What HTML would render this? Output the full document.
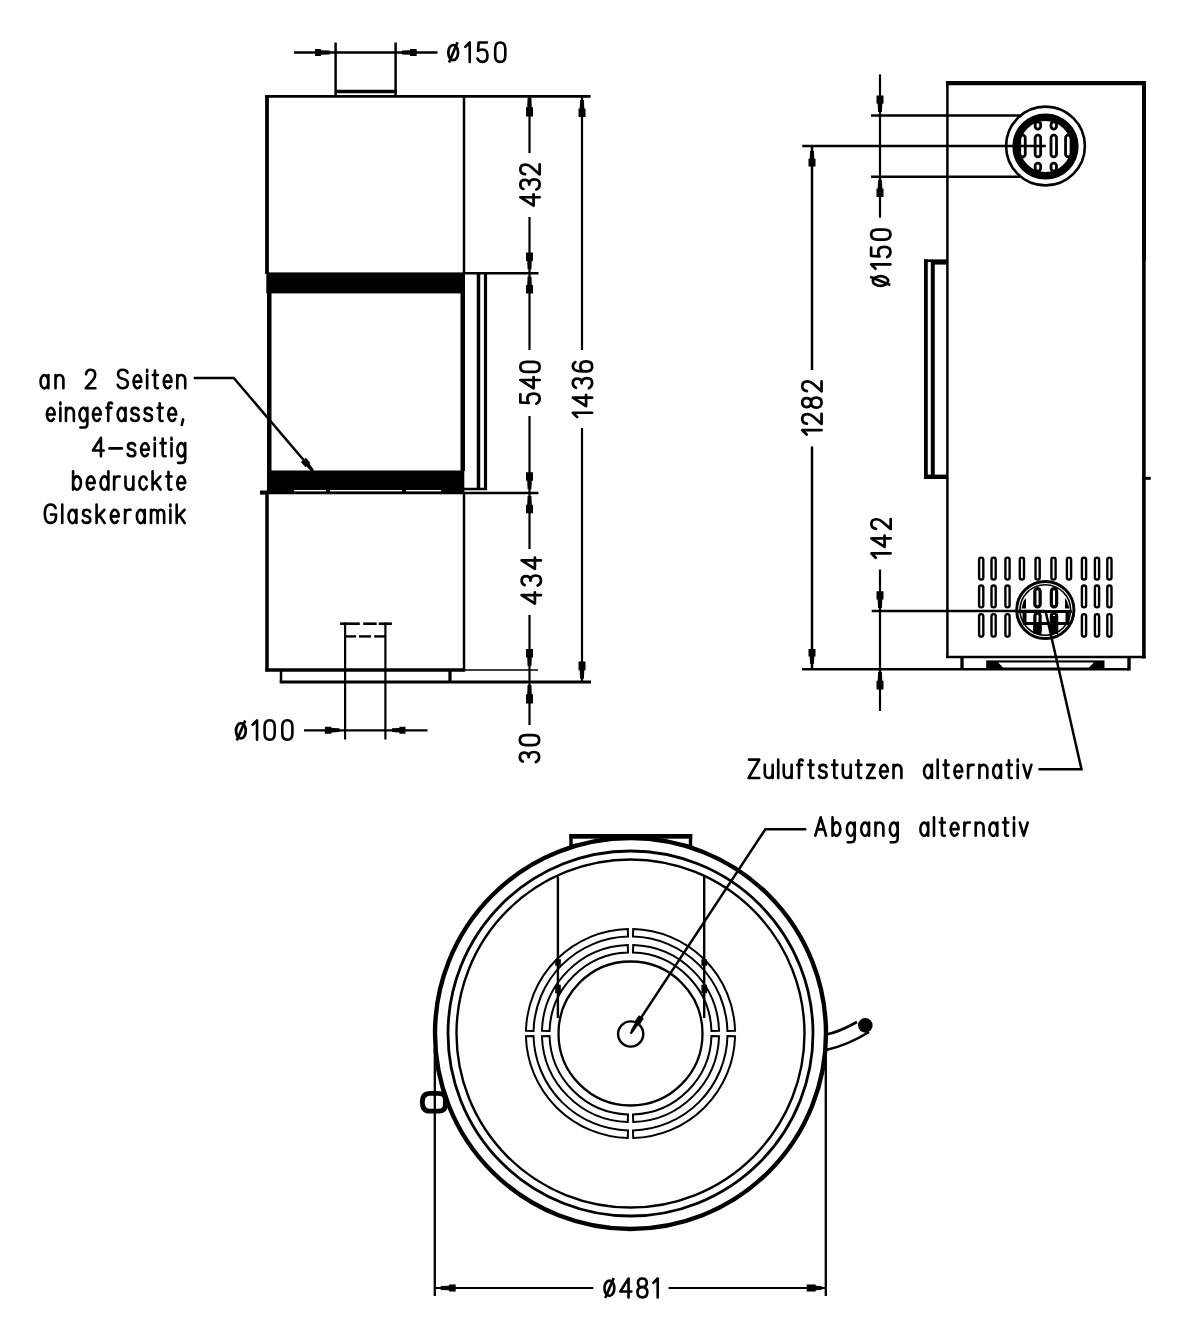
<!DOCTYPE html>
<html><head><meta charset="utf-8"><style>
html,body{margin:0;padding:0;background:#fff;}
svg{display:block;will-change:transform;}
text{font-family:"Liberation Sans",sans-serif;fill:#000;stroke:#000;stroke-width:0.6px;}
</style></head><body>
<svg width="1200" height="1331" viewBox="0 0 1200 1331">
<rect width="1200" height="1331" fill="#fff"/>
<g stroke="#000" stroke-linecap="butt">
<line x1="335.6" y1="42.5" x2="335.6" y2="96" stroke-width="2.5"/>
<line x1="395.6" y1="42.5" x2="395.6" y2="96" stroke-width="2.5"/>
<line x1="335" y1="91.5" x2="397" y2="91.5" stroke-width="3.6"/>
<line x1="294" y1="52.5" x2="437.5" y2="52.5" stroke-width="2.5"/>
<polygon points="329.70,54.40 320.88,54.80 320.88,56.00 315.00,56.00 315.00,49.00 320.88,49.00 320.88,50.20 329.70,50.60" fill="#000" stroke="none"/>
<polygon points="402.00,50.60 410.08,50.20 410.08,49.00 416.70,49.00 416.70,56.00 410.08,56.00 410.08,54.80 402.00,54.40" fill="#000" stroke="none"/>
<g transform="translate(464 61.900000000000006)" fill="none" stroke-linecap="round" stroke-linejoin="round" stroke-width="2.6"><path transform="translate(1.30 0) scale(1.1669 1.3857)" d="M0,-10.8 L3.8,-14 V0" vector-effect="non-scaling-stroke"/><path transform="translate(13.40 0) scale(1.1240 1.3857)" d="M8.4,-14 H1.1 L0.6,-7.9 Q2,-8.9 4.5,-8.9 Q9,-8.9 9,-4.4 Q9,0 4.5,0 Q1.2,0 0,-2.4" vector-effect="non-scaling-stroke"/><path transform="translate(31.18 0) scale(1.1240 1.3857)" d="M4.5,-14 Q9,-14 9,-9.5 V-4.5 Q9,0 4.5,0 Q0,0 0,-4.5 V-9.5 Q0,-14 4.5,-14 Z" vector-effect="non-scaling-stroke"/></g>
<g transform="translate(453.2 52.6) rotate(0)"><ellipse cx="0" cy="0" rx="4.9" ry="7.6" stroke-width="2.7" fill="none"/><line x1="4.3" y1="-10.3" x2="-4.1" y2="9.8" stroke-width="2.7"/></g>
<line x1="265" y1="96.4" x2="590.6" y2="96.4" stroke-width="2.8"/>
<line x1="267" y1="95" x2="267" y2="274" stroke-width="3.8"/>
<line x1="464" y1="96" x2="464" y2="274" stroke-width="2.5"/>
<rect x="266.3" y="272.4" width="198.7" height="21.0" fill="#000" stroke="none"/>
<rect x="267" y="293" width="4.5" height="178" fill="#000" stroke="none"/>
<rect x="460.5" y="293" width="4.5" height="178" fill="#000" stroke="none"/>
<rect x="267" y="470.5" width="197.3" height="23.5" fill="#000" stroke="none"/>
<rect x="260" y="490.5" width="7" height="4.0" fill="#000" stroke="none"/>
<rect x="294" y="490" width="32" height="1.5" fill="#fff" stroke="none"/>
<rect x="330" y="490" width="72" height="1.5" fill="#fff" stroke="none"/>
<rect x="406" y="490" width="35" height="1.5" fill="#fff" stroke="none"/>
<line x1="478.5" y1="273" x2="478.5" y2="490" stroke-width="3.5"/>
<line x1="485.5" y1="273" x2="485.5" y2="490" stroke-width="3.2"/>
<line x1="464" y1="489" x2="487" y2="489" stroke-width="2.5"/>
<line x1="464" y1="273.3" x2="538.5" y2="273.3" stroke-width="2.5"/>
<line x1="260" y1="492.9" x2="538.4" y2="492.9" stroke-width="2.5"/>
<line x1="267" y1="492" x2="267" y2="671.5" stroke-width="3.5"/>
<line x1="464" y1="492" x2="464" y2="671.5" stroke-width="2.5"/>
<line x1="265.5" y1="670" x2="464.5" y2="670" stroke-width="3.5"/>
<line x1="464" y1="670" x2="538" y2="670" stroke-width="1.6"/>
<line x1="281" y1="670" x2="281" y2="682" stroke-width="2.5"/>
<line x1="450" y1="670" x2="450" y2="682" stroke-width="3.2"/>
<line x1="279.7" y1="682" x2="591" y2="682" stroke-width="3"/>
<line x1="345.1" y1="622.5" x2="345.1" y2="739.5" stroke-width="2.2"/>
<line x1="385.4" y1="622.5" x2="385.4" y2="739.5" stroke-width="2.2"/>
<line x1="340.1" y1="623.7" x2="359.8" y2="623.7" stroke-width="2.6"/>
<line x1="363.2" y1="623.7" x2="376.7" y2="623.7" stroke-width="2.6"/>
<line x1="378.7" y1="623.7" x2="391.9" y2="623.7" stroke-width="2.6"/>
<line x1="345" y1="636.4" x2="356.1" y2="636.4" stroke-width="2.4"/>
<line x1="359" y1="636.4" x2="371" y2="636.4" stroke-width="2.4"/>
<line x1="374.2" y1="636.4" x2="385.4" y2="636.4" stroke-width="2.4"/>
<line x1="304" y1="730.3" x2="427.5" y2="730.3" stroke-width="2.2"/>
<polygon points="339.50,732.10 331.47,732.50 331.47,733.70 324.90,733.70 324.90,726.70 331.47,726.70 331.47,727.90 339.50,728.30" fill="#000" stroke="none"/>
<polygon points="392.00,728.30 399.43,727.90 399.43,726.70 405.50,726.70 405.50,733.70 399.43,733.70 399.43,732.50 392.00,732.10" fill="#000" stroke="none"/>
<g transform="translate(251.3 739.7)" fill="none" stroke-linecap="round" stroke-linejoin="round" stroke-width="2.6"><path transform="translate(1.30 0) scale(1.1669 1.3857)" d="M0,-10.8 L3.8,-14 V0" vector-effect="non-scaling-stroke"/><path transform="translate(13.30 0) scale(1.1240 1.3857)" d="M4.5,-14 Q9,-14 9,-9.5 V-4.5 Q9,0 4.5,0 Q0,0 0,-4.5 V-9.5 Q0,-14 4.5,-14 Z" vector-effect="non-scaling-stroke"/><path transform="translate(30.98 0) scale(1.1240 1.3857)" d="M4.5,-14 Q9,-14 9,-9.5 V-4.5 Q9,0 4.5,0 Q0,0 0,-4.5 V-9.5 Q0,-14 4.5,-14 Z" vector-effect="non-scaling-stroke"/></g>
<g transform="translate(240.9 730.8) rotate(0)"><ellipse cx="0" cy="0" rx="4.9" ry="7.6" stroke-width="2.7" fill="none"/><line x1="4.3" y1="-10.3" x2="-4.1" y2="9.8" stroke-width="2.7"/></g>
<line x1="529.5" y1="97" x2="529.5" y2="153" stroke-width="2.2"/>
<line x1="529.5" y1="217" x2="529.5" y2="350" stroke-width="2.2"/>
<line x1="529.5" y1="416" x2="529.5" y2="549" stroke-width="2.2"/>
<line x1="529.5" y1="615" x2="529.5" y2="725" stroke-width="2.2"/>
<polygon points="531.40,97.90 531.80,107.25 533.00,107.25 533.00,116.60 526.00,116.60 526.00,107.25 527.20,107.25 527.60,97.90" fill="#000" stroke="none"/>
<polygon points="527.60,269.30 527.20,260.95 526.00,260.95 526.00,252.60 533.00,252.60 533.00,260.95 531.80,260.95 531.40,269.30" fill="#000" stroke="none"/>
<polygon points="531.40,276.50 531.80,285.05 533.00,285.05 533.00,293.60 526.00,293.60 526.00,285.05 527.20,285.05 527.60,276.50" fill="#000" stroke="none"/>
<polygon points="527.60,489.30 527.20,480.75 526.00,480.75 526.00,472.20 533.00,472.20 533.00,480.75 531.80,480.75 531.40,489.30" fill="#000" stroke="none"/>
<polygon points="531.40,496.10 531.80,504.65 533.00,504.65 533.00,513.20 526.00,513.20 526.00,504.65 527.20,504.65 527.60,496.10" fill="#000" stroke="none"/>
<polygon points="527.60,666.00 527.20,657.45 526.00,657.45 526.00,648.90 533.00,648.90 533.00,657.45 531.80,657.45 531.40,666.00" fill="#000" stroke="none"/>
<polygon points="531.40,685.00 531.80,694.25 533.00,694.25 533.00,703.50 526.00,703.50 526.00,694.25 527.20,694.25 527.60,685.00" fill="#000" stroke="none"/>
<line x1="582" y1="97" x2="582" y2="350" stroke-width="2.2"/>
<line x1="582" y1="428" x2="582" y2="682" stroke-width="2.2"/>
<polygon points="583.90,99.90 584.30,108.45 585.50,108.45 585.50,117.00 578.50,117.00 578.50,108.45 579.70,108.45 580.10,99.90" fill="#000" stroke="none"/>
<polygon points="580.10,678.70 579.70,670.15 578.50,670.15 578.50,661.60 585.50,661.60 585.50,670.15 584.30,670.15 583.90,678.70" fill="#000" stroke="none"/>
<g transform="translate(539.65 207) rotate(-90)" fill="none" stroke-linecap="round" stroke-linejoin="round" stroke-width="2.7"><path transform="translate(1.35 0) scale(1.2026 1.3786)" d="M7,0 V-14 L0,-4.4 H9.4" vector-effect="non-scaling-stroke"/><path transform="translate(17.59 0) scale(1.1182 1.3786)" d="M0.4,-11.8 Q1.4,-14 4.5,-14 Q8.5,-14 8.5,-10.6 Q8.5,-7.6 4.3,-7.6 M4.3,-7.6 Q9,-7.6 9,-3.9 Q9,0 4.5,0 Q1.2,0 0,-2.4" vector-effect="non-scaling-stroke"/><path transform="translate(32.59 0) scale(1.0939 1.3786)" d="M0.2,-10.6 Q0.8,-14 4.6,-14 Q9,-14 9,-10.3 Q9,-8 6.6,-5.9 L0,0 H9.2" vector-effect="non-scaling-stroke"/></g>
<g transform="translate(539.65 405) rotate(-90)" fill="none" stroke-linecap="round" stroke-linejoin="round" stroke-width="2.7"><path transform="translate(1.35 0) scale(1.1182 1.3786)" d="M8.4,-14 H1.1 L0.6,-7.9 Q2,-8.9 4.5,-8.9 Q9,-8.9 9,-4.4 Q9,0 4.5,0 Q1.2,0 0,-2.4" vector-effect="non-scaling-stroke"/><path transform="translate(16.60 0) scale(1.2026 1.3786)" d="M7,0 V-14 L0,-4.4 H9.4" vector-effect="non-scaling-stroke"/><path transform="translate(33.09 0) scale(1.1182 1.3786)" d="M4.5,-14 Q9,-14 9,-9.5 V-4.5 Q9,0 4.5,0 Q0,0 0,-4.5 V-9.5 Q0,-14 4.5,-14 Z" vector-effect="non-scaling-stroke"/></g>
<g transform="translate(592.15 418.5) rotate(-90)" fill="none" stroke-linecap="round" stroke-linejoin="round" stroke-width="2.7"><path transform="translate(1.35 0) scale(1.1609 1.3786)" d="M0,-10.8 L3.8,-14 V0" vector-effect="non-scaling-stroke"/><path transform="translate(12.41 0) scale(1.2026 1.3786)" d="M7,0 V-14 L0,-4.4 H9.4" vector-effect="non-scaling-stroke"/><path transform="translate(30.37 0) scale(1.1182 1.3786)" d="M0.4,-11.8 Q1.4,-14 4.5,-14 Q8.5,-14 8.5,-10.6 Q8.5,-7.6 4.3,-7.6 M4.3,-7.6 Q9,-7.6 9,-3.9 Q9,0 4.5,0 Q1.2,0 0,-2.4" vector-effect="non-scaling-stroke"/><path transform="translate(47.09 0) scale(1.1182 1.3786)" d="M8.2,-12.2 Q7.2,-14 4.6,-14 Q0,-14 0,-7.5 V-4.4 Q0,0 4.5,0 Q9,0 9,-4.4 Q9,-8.6 4.5,-8.6 Q0,-8.6 0,-4.8" vector-effect="non-scaling-stroke"/></g>
<g transform="translate(540.9499999999999 604.9) rotate(-90)" fill="none" stroke-linecap="round" stroke-linejoin="round" stroke-width="2.7"><path transform="translate(1.35 0) scale(1.2026 1.3786)" d="M7,0 V-14 L0,-4.4 H9.4" vector-effect="non-scaling-stroke"/><path transform="translate(19.32 0) scale(1.1182 1.3786)" d="M0.4,-11.8 Q1.4,-14 4.5,-14 Q8.5,-14 8.5,-10.6 Q8.5,-7.6 4.3,-7.6 M4.3,-7.6 Q9,-7.6 9,-3.9 Q9,0 4.5,0 Q1.2,0 0,-2.4" vector-effect="non-scaling-stroke"/><path transform="translate(36.05 0) scale(1.2026 1.3786)" d="M7,0 V-14 L0,-4.4 H9.4" vector-effect="non-scaling-stroke"/></g>
<g transform="translate(539.15 763.4) rotate(-90)" fill="none" stroke-linecap="round" stroke-linejoin="round" stroke-width="2.7"><path transform="translate(1.35 0) scale(1.1182 1.3786)" d="M0.4,-11.8 Q1.4,-14 4.5,-14 Q8.5,-14 8.5,-10.6 Q8.5,-7.6 4.3,-7.6 M4.3,-7.6 Q9,-7.6 9,-3.9 Q9,0 4.5,0 Q1.2,0 0,-2.4" vector-effect="non-scaling-stroke"/><path transform="translate(18.29 0) scale(1.1182 1.3786)" d="M4.5,-14 Q9,-14 9,-9.5 V-4.5 Q9,0 4.5,0 Q0,0 0,-4.5 V-9.5 Q0,-14 4.5,-14 Z" vector-effect="non-scaling-stroke"/></g>
<g transform="translate(39.2 388.2)" fill="none" stroke-linecap="round" stroke-linejoin="round" stroke-width="2.6"><path transform="translate(1.30 0) scale(0.8762 1.3143)" d="M9,-5 A4.5,5 0 1 0 9,-4.9 M9,-10 V0" vector-effect="non-scaling-stroke"/><path transform="translate(16.31 0) scale(0.8762 1.3143)" d="M0,-10 V0 M0,-6 Q0,-10 4.5,-10 Q9,-10 9,-6 V0" vector-effect="non-scaling-stroke"/></g>
<g transform="translate(84.5 388.2)" fill="none" stroke-linecap="round" stroke-linejoin="round" stroke-width="2.6"><path transform="translate(1.30 0) scale(1.0429 1.3143)" d="M0.2,-10.6 Q0.8,-14 4.6,-14 Q9,-14 9,-10.3 Q9,-8 6.6,-5.9 L0,0 H9.2" vector-effect="non-scaling-stroke"/></g>
<g transform="translate(116.4 388.2)" fill="none" stroke-linecap="round" stroke-linejoin="round" stroke-width="2.6"><path transform="translate(1.30 0) scale(0.9638 1.3143)" d="M10.2,-11.8 Q9.4,-14 5.3,-14 Q0.4,-14 0.4,-10.6 Q0.4,-7.7 5.3,-7.2 Q10.5,-6.7 10.5,-3.5 Q10.5,0 5.3,0 Q0.8,0 0,-2.6" vector-effect="non-scaling-stroke"/><path transform="translate(17.14 0) scale(0.8762 1.3143)" d="M0.2,-5 H9 A4.5,5 0 1 0 7.8,-1.6" vector-effect="non-scaling-stroke"/><path transform="translate(30.74 0) scale(1.3143 1.3143)" d="M0,-10 V0 M0,-14 V-12.6" vector-effect="non-scaling-stroke"/><path transform="translate(36.46 0) scale(0.9153 1.3143)" d="M2.3,-13.5 V-1.6 Q2.3,0 4.2,0 H5.4 M0,-10 H5.6" vector-effect="non-scaling-stroke"/><path transform="translate(47.31 0) scale(0.8762 1.3143)" d="M0.2,-5 H9 A4.5,5 0 1 0 7.8,-1.6" vector-effect="non-scaling-stroke"/><path transform="translate(60.91 0) scale(0.8762 1.3143)" d="M0,-10 V0 M0,-6 Q0,-10 4.5,-10 Q9,-10 9,-6 V0" vector-effect="non-scaling-stroke"/></g>
<g transform="translate(45.6 421.0)" fill="none" stroke-linecap="round" stroke-linejoin="round" stroke-width="2.6"><path transform="translate(1.30 0) scale(0.8762 1.3143)" d="M0.2,-5 H9 A4.5,5 0 1 0 7.8,-1.6" vector-effect="non-scaling-stroke"/><path transform="translate(14.78 0) scale(1.3143 1.3143)" d="M0,-10 V0 M0,-14 V-12.6" vector-effect="non-scaling-stroke"/><path transform="translate(20.38 0) scale(0.8762 1.3143)" d="M0,-10 V0 M0,-6 Q0,-10 4.5,-10 Q9,-10 9,-6 V0" vector-effect="non-scaling-stroke"/><path transform="translate(33.86 0) scale(0.8762 1.3143)" d="M9,-5 A4.5,5 0 1 0 9,-4.9 M9,-10 V2 Q9,5 5.5,5 H1" vector-effect="non-scaling-stroke"/><path transform="translate(47.34 0) scale(0.8762 1.3143)" d="M0.2,-5 H9 A4.5,5 0 1 0 7.8,-1.6" vector-effect="non-scaling-stroke"/><path transform="translate(60.82 0) scale(0.9115 1.3143)" d="M6.2,-13.3 Q5.5,-14 4.2,-14 Q2,-14 2,-11.6 V0 M0,-10 H5.4" vector-effect="non-scaling-stroke"/><path transform="translate(72.07 0) scale(0.8762 1.3143)" d="M9,-5 A4.5,5 0 1 0 9,-4.9 M9,-10 V0" vector-effect="non-scaling-stroke"/><path transform="translate(85.55 0) scale(0.8864 1.3143)" d="M8.4,-8.3 Q7.6,-10 4.3,-10 Q0.4,-10 0.4,-7.6 Q0.4,-5.6 4.3,-5.1 Q8.6,-4.6 8.6,-2.4 Q8.6,0 4.3,0 Q0.8,0 0,-1.8" vector-effect="non-scaling-stroke"/><path transform="translate(98.77 0) scale(0.8864 1.3143)" d="M8.4,-8.3 Q7.6,-10 4.3,-10 Q0.4,-10 0.4,-7.6 Q0.4,-5.6 4.3,-5.1 Q8.6,-4.6 8.6,-2.4 Q8.6,0 4.3,0 Q0.8,0 0,-1.8" vector-effect="non-scaling-stroke"/><path transform="translate(111.98 0) scale(0.9153 1.3143)" d="M2.3,-13.5 V-1.6 Q2.3,0 4.2,0 H5.4 M0,-10 H5.6" vector-effect="non-scaling-stroke"/><path transform="translate(122.70 0) scale(0.8762 1.3143)" d="M0.2,-5 H9 A4.5,5 0 1 0 7.8,-1.6" vector-effect="non-scaling-stroke"/><path transform="translate(136.19 0) scale(1.0952 1.3143)" d="M1.2,-1.2 L0,3" vector-effect="non-scaling-stroke"/></g>
<g transform="translate(91.6 456.3)" fill="none" stroke-linecap="round" stroke-linejoin="round" stroke-width="2.6"><path transform="translate(1.30 0) scale(1.1465 1.3143)" d="M7,0 V-14 L0,-4.4 H9.4" vector-effect="non-scaling-stroke"/><path transform="translate(17.88 0) scale(1.3005 1.3143)" d="M0,-6 H9.5" vector-effect="non-scaling-stroke"/><path transform="translate(36.05 0) scale(0.8864 1.3143)" d="M8.4,-8.3 Q7.6,-10 4.3,-10 Q0.4,-10 0.4,-7.6 Q0.4,-5.6 4.3,-5.1 Q8.6,-4.6 8.6,-2.4 Q8.6,0 4.3,0 Q0.8,0 0,-1.8" vector-effect="non-scaling-stroke"/><path transform="translate(49.48 0) scale(0.8762 1.3143)" d="M0.2,-5 H9 A4.5,5 0 1 0 7.8,-1.6" vector-effect="non-scaling-stroke"/><path transform="translate(63.17 0) scale(1.3143 1.3143)" d="M0,-10 V0 M0,-14 V-12.6" vector-effect="non-scaling-stroke"/><path transform="translate(68.97 0) scale(0.9153 1.3143)" d="M2.3,-13.5 V-1.6 Q2.3,0 4.2,0 H5.4 M0,-10 H5.6" vector-effect="non-scaling-stroke"/><path transform="translate(79.91 0) scale(1.3143 1.3143)" d="M0,-10 V0 M0,-14 V-12.6" vector-effect="non-scaling-stroke"/><path transform="translate(85.71 0) scale(0.8762 1.3143)" d="M9,-5 A4.5,5 0 1 0 9,-4.9 M9,-10 V2 Q9,5 5.5,5 H1" vector-effect="non-scaling-stroke"/></g>
<g transform="translate(71.8 489.59999999999997)" fill="none" stroke-linecap="round" stroke-linejoin="round" stroke-width="2.6"><path transform="translate(1.30 0) scale(0.8762 1.3143)" d="M0,-14 V0 M0,-5 A4.5,5 0 1 0 0,-5.1" vector-effect="non-scaling-stroke"/><path transform="translate(14.98 0) scale(0.8762 1.3143)" d="M0.2,-5 H9 A4.5,5 0 1 0 7.8,-1.6" vector-effect="non-scaling-stroke"/><path transform="translate(28.67 0) scale(0.8762 1.3143)" d="M9,-14 V0 M9,-5 A4.5,5 0 1 0 9,-4.9" vector-effect="non-scaling-stroke"/><path transform="translate(42.35 0) scale(0.8492 1.3143)" d="M0,-10 V0 M0,-6 Q0.5,-10 4,-10 H6.5" vector-effect="non-scaling-stroke"/><path transform="translate(53.67 0) scale(0.8762 1.3143)" d="M0,-10 V-4 Q0,0 4.5,0 Q9,0 9,-4 M9,-10 V0" vector-effect="non-scaling-stroke"/><path transform="translate(67.35 0) scale(0.8864 1.3143)" d="M8.6,-7.6 A4.5,5 0 1 0 8.6,-2.4" vector-effect="non-scaling-stroke"/><path transform="translate(80.77 0) scale(0.9432 1.3143)" d="M0,-14 V0 M8.3,-10 L0,-3.6 M2.9,-5.8 L8.5,0" vector-effect="non-scaling-stroke"/><path transform="translate(94.59 0) scale(0.9153 1.3143)" d="M2.3,-13.5 V-1.6 Q2.3,0 4.2,0 H5.4 M0,-10 H5.6" vector-effect="non-scaling-stroke"/><path transform="translate(105.51 0) scale(0.8762 1.3143)" d="M0.2,-5 H9 A4.5,5 0 1 0 7.8,-1.6" vector-effect="non-scaling-stroke"/></g>
<g transform="translate(43.5 522.9000000000001)" fill="none" stroke-linecap="round" stroke-linejoin="round" stroke-width="2.6"><path transform="translate(1.30 0) scale(1.0156 1.3143)" d="M10.6,-11.3 Q9.5,-14 5.6,-14 Q0,-14 0,-7 Q0,0 5.6,0 Q11,0 11,-4.5 V-6.4 H6" vector-effect="non-scaling-stroke"/><path transform="translate(18.75 0) scale(1.3143 1.3143)" d="M0,-14 V0" vector-effect="non-scaling-stroke"/><path transform="translate(25.02 0) scale(0.8762 1.3143)" d="M9,-5 A4.5,5 0 1 0 9,-4.9 M9,-10 V0" vector-effect="non-scaling-stroke"/><path transform="translate(39.18 0) scale(0.8864 1.3143)" d="M8.4,-8.3 Q7.6,-10 4.3,-10 Q0.4,-10 0.4,-7.6 Q0.4,-5.6 4.3,-5.1 Q8.6,-4.6 8.6,-2.4 Q8.6,0 4.3,0 Q0.8,0 0,-1.8" vector-effect="non-scaling-stroke"/><path transform="translate(53.08 0) scale(0.9432 1.3143)" d="M0,-14 V0 M8.3,-10 L0,-3.6 M2.9,-5.8 L8.5,0" vector-effect="non-scaling-stroke"/><path transform="translate(67.37 0) scale(0.8762 1.3143)" d="M0.2,-5 H9 A4.5,5 0 1 0 7.8,-1.6" vector-effect="non-scaling-stroke"/><path transform="translate(81.53 0) scale(0.8492 1.3143)" d="M0,-10 V0 M0,-6 Q0.5,-10 4,-10 H6.5" vector-effect="non-scaling-stroke"/><path transform="translate(93.33 0) scale(0.8762 1.3143)" d="M9,-5 A4.5,5 0 1 0 9,-4.9 M9,-10 V0" vector-effect="non-scaling-stroke"/><path transform="translate(107.49 0) scale(0.9388 1.3143)" d="M0,-10 V0 M0,-6.5 Q0,-10 3.5,-10 Q7,-10 7,-6.5 V0 M7,-6.5 Q7,-10 10.5,-10 Q14,-10 14,-6.5 V0" vector-effect="non-scaling-stroke"/><path transform="translate(126.91 0) scale(1.3143 1.3143)" d="M0,-10 V0 M0,-14 V-12.6" vector-effect="non-scaling-stroke"/><path transform="translate(133.18 0) scale(0.9432 1.3143)" d="M0,-14 V0 M8.3,-10 L0,-3.6 M2.9,-5.8 L8.5,0" vector-effect="non-scaling-stroke"/></g>
<polyline points="193.75,378 233.75,378 313,471" stroke-width="2.5" fill="none"/>
<polygon points="311.36,471.47 306.43,466.45 305.47,467.26 300.92,461.91 305.88,457.69 310.43,463.04 309.47,463.85 313.64,469.53" fill="#000" stroke="none"/>
<line x1="947.4" y1="82" x2="947.4" y2="658" stroke-width="2.5"/>
<line x1="946" y1="83.2" x2="1146" y2="83.2" stroke-width="4.2"/>
<line x1="1144" y1="81.3" x2="1144" y2="261" stroke-width="4"/>
<line x1="1143.9" y1="259" x2="1143.9" y2="658.4" stroke-width="3.6"/>
<line x1="946" y1="656.9" x2="1145.5" y2="656.9" stroke-width="2.5"/>
<line x1="925.9" y1="259.4" x2="925.9" y2="479" stroke-width="3.8"/>
<line x1="924" y1="260.7" x2="947" y2="260.7" stroke-width="2.6"/>
<line x1="932.8" y1="262" x2="932.8" y2="477" stroke-width="4"/>
<line x1="932.8" y1="263.3" x2="947" y2="263.3" stroke-width="2.6"/>
<line x1="924" y1="476.8" x2="947" y2="476.8" stroke-width="4.4"/>
<line x1="1142" y1="478.3" x2="1150.7" y2="478.3" stroke-width="3"/>
<circle cx="1045.5" cy="146" r="39.4" stroke-width="2.6" fill="none"/>
<circle cx="1045.5" cy="146.5" r="29.3" stroke-width="7.6" fill="none"/>
<rect x="1035.15" y="121.80000000000001" width="5.500000000000001" height="7.2999999999999945" rx="2.7500000000000004" stroke-width="2.8" fill="none"/>
<rect x="1035.15" y="163.1" width="5.500000000000001" height="8.00000000000001" rx="2.7500000000000004" stroke-width="2.8" fill="none"/>
<rect x="1051.0" y="121.80000000000001" width="5.500000000000001" height="7.2999999999999945" rx="2.7500000000000004" stroke-width="2.8" fill="none"/>
<rect x="1051.0" y="163.1" width="5.500000000000001" height="8.00000000000001" rx="2.7500000000000004" stroke-width="2.8" fill="none"/>
<rect x="1019.75" y="135.15" width="5.500000000000001" height="21.75000000000001" rx="2.7500000000000004" stroke-width="2.8" fill="none"/>
<rect x="1035.15" y="135.15" width="5.500000000000001" height="21.75000000000001" rx="2.7500000000000004" stroke-width="2.8" fill="none"/>
<rect x="1051.0" y="135.15" width="5.500000000000001" height="21.75000000000001" rx="2.7500000000000004" stroke-width="2.8" fill="none"/>
<rect x="1065.55" y="135.15" width="5.500000000000001" height="21.75000000000001" rx="2.7500000000000004" stroke-width="2.8" fill="none"/>
<line x1="871" y1="115.5" x2="1021" y2="115.5" stroke-width="2.5"/>
<line x1="802.3" y1="146" x2="1045.8" y2="146" stroke-width="2.5"/>
<line x1="871" y1="176.8" x2="1021" y2="176.8" stroke-width="2.5"/>
<line x1="880" y1="74.4" x2="880" y2="217.7" stroke-width="2.2"/>
<polygon points="878.10,112.00 877.70,103.70 876.50,103.70 876.50,95.40 883.50,95.40 883.50,103.70 882.30,103.70 881.90,112.00" fill="#000" stroke="none"/>
<polygon points="881.90,179.70 882.30,188.40 883.50,188.40 883.50,197.10 876.50,197.10 876.50,188.40 877.70,188.40 878.10,179.70" fill="#000" stroke="none"/>
<g transform="translate(890.4499999999999 270.1) rotate(-90)" fill="none" stroke-linecap="round" stroke-linejoin="round" stroke-width="2.7"><path transform="translate(1.35 0) scale(1.1609 1.3786)" d="M0,-10.8 L3.8,-14 V0" vector-effect="non-scaling-stroke"/><path transform="translate(13.09 0) scale(1.1182 1.3786)" d="M8.4,-14 H1.1 L0.6,-7.9 Q2,-8.9 4.5,-8.9 Q9,-8.9 9,-4.4 Q9,0 4.5,0 Q1.2,0 0,-2.4" vector-effect="non-scaling-stroke"/><path transform="translate(30.49 0) scale(1.1182 1.3786)" d="M4.5,-14 Q9,-14 9,-9.5 V-4.5 Q9,0 4.5,0 Q0,0 0,-4.5 V-9.5 Q0,-14 4.5,-14 Z" vector-effect="non-scaling-stroke"/></g>
<g transform="translate(880.5 281) rotate(-90)"><ellipse cx="0" cy="0" rx="4.9" ry="7.6" stroke-width="2.7" fill="none"/><line x1="4.3" y1="-10.3" x2="-4.1" y2="9.8" stroke-width="2.7"/></g>
<line x1="812" y1="146" x2="812" y2="370" stroke-width="2.5"/>
<line x1="812" y1="446.5" x2="812" y2="668" stroke-width="2.5"/>
<polygon points="813.90,151.00 814.30,158.75 815.50,158.75 815.50,166.50 808.50,166.50 808.50,158.75 809.70,158.75 810.10,151.00" fill="#000" stroke="none"/>
<polygon points="810.10,664.00 809.70,656.55 808.50,656.55 808.50,649.10 815.50,649.10 815.50,656.55 814.30,656.55 813.90,664.00" fill="#000" stroke="none"/>
<g transform="translate(821.55 435.9) rotate(-90)" fill="none" stroke-linecap="round" stroke-linejoin="round" stroke-width="2.7"><path transform="translate(1.35 0) scale(1.1609 1.3786)" d="M0,-10.8 L3.8,-14 V0" vector-effect="non-scaling-stroke"/><path transform="translate(11.99 0) scale(1.0939 1.3786)" d="M0.2,-10.6 Q0.8,-14 4.6,-14 Q9,-14 9,-10.3 Q9,-8 6.6,-5.9 L0,0 H9.2" vector-effect="non-scaling-stroke"/><path transform="translate(28.29 0) scale(1.1182 1.3786)" d="M4.5,-7.6 Q0.5,-7.6 0.5,-10.8 Q0.5,-14 4.5,-14 Q8.5,-14 8.5,-10.8 Q8.5,-7.6 4.5,-7.6 Q0,-7.6 0,-3.8 Q0,0 4.5,0 Q9,0 9,-3.8 Q9,-7.6 4.5,-7.6 Z" vector-effect="non-scaling-stroke"/><path transform="translate(44.59 0) scale(1.0939 1.3786)" d="M0.2,-10.6 Q0.8,-14 4.6,-14 Q9,-14 9,-10.3 Q9,-8 6.6,-5.9 L0,0 H9.2" vector-effect="non-scaling-stroke"/></g>
<rect x="979.1000000000001" y="557.6" width="4.199999999999999" height="21.90000000000007" rx="2.0999999999999996" stroke-width="2.4" fill="none"/>
<rect x="979.1000000000001" y="585.5" width="4.199999999999999" height="21.90000000000007" rx="2.0999999999999996" stroke-width="2.4" fill="none"/>
<rect x="979.1000000000001" y="614.1" width="4.199999999999999" height="22.6" rx="2.0999999999999996" stroke-width="2.4" fill="none"/>
<rect x="991.5000000000001" y="557.6" width="4.199999999999999" height="21.90000000000007" rx="2.0999999999999996" stroke-width="2.4" fill="none"/>
<rect x="991.5000000000001" y="585.5" width="4.199999999999999" height="21.90000000000007" rx="2.0999999999999996" stroke-width="2.4" fill="none"/>
<rect x="991.5000000000001" y="614.1" width="4.199999999999999" height="22.6" rx="2.0999999999999996" stroke-width="2.4" fill="none"/>
<rect x="1005.4000000000001" y="557.6" width="4.199999999999999" height="21.90000000000007" rx="2.0999999999999996" stroke-width="2.4" fill="none"/>
<rect x="1005.4000000000001" y="585.5" width="4.199999999999999" height="21.90000000000007" rx="2.0999999999999996" stroke-width="2.4" fill="none"/>
<rect x="1005.4000000000001" y="614.1" width="4.199999999999999" height="22.6" rx="2.0999999999999996" stroke-width="2.4" fill="none"/>
<rect x="1019.8000000000001" y="557.6" width="4.199999999999999" height="21.90000000000007" rx="2.0999999999999996" stroke-width="2.4" fill="none"/>
<rect x="1035.5" y="557.6" width="4.199999999999999" height="21.90000000000007" rx="2.0999999999999996" stroke-width="2.4" fill="none"/>
<rect x="1051.4" y="557.6" width="4.199999999999999" height="21.90000000000007" rx="2.0999999999999996" stroke-width="2.4" fill="none"/>
<rect x="1066.9" y="557.6" width="4.199999999999999" height="21.90000000000007" rx="2.0999999999999996" stroke-width="2.4" fill="none"/>
<rect x="1081.9" y="557.6" width="4.199999999999999" height="21.90000000000007" rx="2.0999999999999996" stroke-width="2.4" fill="none"/>
<rect x="1081.9" y="585.5" width="4.199999999999999" height="21.90000000000007" rx="2.0999999999999996" stroke-width="2.4" fill="none"/>
<rect x="1081.9" y="614.1" width="4.199999999999999" height="22.6" rx="2.0999999999999996" stroke-width="2.4" fill="none"/>
<rect x="1094.9" y="557.6" width="4.199999999999999" height="21.90000000000007" rx="2.0999999999999996" stroke-width="2.4" fill="none"/>
<rect x="1094.9" y="585.5" width="4.199999999999999" height="21.90000000000007" rx="2.0999999999999996" stroke-width="2.4" fill="none"/>
<rect x="1094.9" y="614.1" width="4.199999999999999" height="22.6" rx="2.0999999999999996" stroke-width="2.4" fill="none"/>
<rect x="1107.3000000000002" y="557.6" width="4.199999999999999" height="21.90000000000007" rx="2.0999999999999996" stroke-width="2.4" fill="none"/>
<rect x="1107.3000000000002" y="585.5" width="4.199999999999999" height="21.90000000000007" rx="2.0999999999999996" stroke-width="2.4" fill="none"/>
<rect x="1107.3000000000002" y="614.1" width="4.199999999999999" height="22.6" rx="2.0999999999999996" stroke-width="2.4" fill="none"/>
<circle cx="1045.3" cy="610" r="28.6" stroke-width="3" fill="#fff"/>
<circle cx="1045.3" cy="610" r="25.3" stroke-width="1.6" fill="none"/>
<rect x="1034.85" y="588.6" width="5.3" height="18.3" rx="2.65" stroke-width="3.2" fill="none"/>
<rect x="1051.35" y="588.6" width="5.3" height="18.3" rx="2.65" stroke-width="3.2" fill="none"/>
<polygon points="1021.5,608.5 1026,608.5 1026,598 1023.5,601" fill="#000" stroke="none"/>
<polygon points="1065,608.5 1069.5,608.5 1067,601 1065,598" fill="#000" stroke="none"/>
<line x1="1017" y1="611.5" x2="1072" y2="611.5" stroke-width="3"/>
<path d="M1024.5,611.5 V623.4 H1067.5 V611.5" stroke-width="3" fill="none"/>
<rect x="1022.5" y="611.5" width="4.0" height="11.899999999999977" fill="#000" stroke="none"/>
<rect x="1065.5" y="611.5" width="4.0" height="11.899999999999977" fill="#000" stroke="none"/>
<rect x="1034.85" y="613.1" width="5.3" height="19.500000000000046" rx="2.65" stroke-width="3.2" fill="none"/>
<rect x="1051.35" y="613.1" width="5.3" height="19.500000000000046" rx="2.65" stroke-width="3.2" fill="none"/>
<rect x="1033.5" y="622" width="8.0" height="12" fill="#000" stroke="none"/>
<rect x="1050" y="616" width="8" height="18" fill="#000" stroke="none"/>
<line x1="871.7" y1="611" x2="1045" y2="611" stroke-width="2.5"/>
<line x1="880" y1="569.5" x2="880" y2="711" stroke-width="2.2"/>
<polygon points="878.10,607.90 877.70,599.60 876.50,599.60 876.50,591.30 883.50,591.30 883.50,599.60 882.30,599.60 881.90,607.90" fill="#000" stroke="none"/>
<polygon points="881.90,671.90 882.30,680.70 883.50,680.70 883.50,689.50 876.50,689.50 876.50,680.70 877.70,680.70 878.10,671.90" fill="#000" stroke="none"/>
<g transform="translate(890.65 559.1) rotate(-90)" fill="none" stroke-linecap="round" stroke-linejoin="round" stroke-width="2.7"><path transform="translate(1.35 0) scale(1.1609 1.3786)" d="M0,-10.8 L3.8,-14 V0" vector-effect="non-scaling-stroke"/><path transform="translate(12.22 0) scale(1.2026 1.3786)" d="M7,0 V-14 L0,-4.4 H9.4" vector-effect="non-scaling-stroke"/><path transform="translate(29.99 0) scale(1.0939 1.3786)" d="M0.2,-10.6 Q0.8,-14 4.6,-14 Q9,-14 9,-10.3 Q9,-8 6.6,-5.9 L0,0 H9.2" vector-effect="non-scaling-stroke"/></g>
<line x1="802" y1="669.2" x2="1129.3" y2="669.2" stroke-width="2.5"/>
<line x1="962" y1="656" x2="962" y2="670" stroke-width="3.3"/>
<line x1="1129" y1="656" x2="1129" y2="670.5" stroke-width="3.4"/>
<rect x="986.2" y="660.4" width="118.29999999999995" height="9.200000000000045" fill="#000" stroke="none"/>
<polygon points="998.2,662.6 1093.9,662.6 1089,667.5 1003,667.5" fill="#fff" stroke="none"/>
<polyline points="1045.3,610 1081.5,769.3 1038.4,769.3" stroke-width="2.5" fill="none"/>
<g transform="translate(747.3 778.0)" fill="none" stroke-linecap="round" stroke-linejoin="round" stroke-width="2.6"><path transform="translate(1.30 0) scale(0.9678 1.3143)" d="M0.4,-14 H11 L0,0 H11" vector-effect="non-scaling-stroke"/><path transform="translate(17.48 0) scale(0.8762 1.3143)" d="M0,-10 V-4 Q0,0 4.5,0 Q9,0 9,-4 M9,-10 V0" vector-effect="non-scaling-stroke"/><path transform="translate(30.91 0) scale(1.3143 1.3143)" d="M0,-14 V0" vector-effect="non-scaling-stroke"/><path transform="translate(36.44 0) scale(0.8762 1.3143)" d="M0,-10 V-4 Q0,0 4.5,0 Q9,0 9,-4 M9,-10 V0" vector-effect="non-scaling-stroke"/><path transform="translate(49.87 0) scale(0.9115 1.3143)" d="M6.2,-13.3 Q5.5,-14 4.2,-14 Q2,-14 2,-11.6 V0 M0,-10 H5.4" vector-effect="non-scaling-stroke"/><path transform="translate(61.06 0) scale(0.9153 1.3143)" d="M2.3,-13.5 V-1.6 Q2.3,0 4.2,0 H5.4 M0,-10 H5.6" vector-effect="non-scaling-stroke"/><path transform="translate(71.72 0) scale(0.8864 1.3143)" d="M8.4,-8.3 Q7.6,-10 4.3,-10 Q0.4,-10 0.4,-7.6 Q0.4,-5.6 4.3,-5.1 Q8.6,-4.6 8.6,-2.4 Q8.6,0 4.3,0 Q0.8,0 0,-1.8" vector-effect="non-scaling-stroke"/><path transform="translate(84.88 0) scale(0.9153 1.3143)" d="M2.3,-13.5 V-1.6 Q2.3,0 4.2,0 H5.4 M0,-10 H5.6" vector-effect="non-scaling-stroke"/><path transform="translate(95.54 0) scale(0.8762 1.3143)" d="M0,-10 V-4 Q0,0 4.5,0 Q9,0 9,-4 M9,-10 V0" vector-effect="non-scaling-stroke"/><path transform="translate(108.97 0) scale(0.9153 1.3143)" d="M2.3,-13.5 V-1.6 Q2.3,0 4.2,0 H5.4 M0,-10 H5.6" vector-effect="non-scaling-stroke"/><path transform="translate(119.63 0) scale(0.8864 1.3143)" d="M0.3,-10 H8.6 L0,0 H8.8" vector-effect="non-scaling-stroke"/><path transform="translate(132.79 0) scale(0.8762 1.3143)" d="M0.2,-5 H9 A4.5,5 0 1 0 7.8,-1.6" vector-effect="non-scaling-stroke"/><path transform="translate(146.21 0) scale(0.8762 1.3143)" d="M0,-10 V0 M0,-6 Q0,-10 4.5,-10 Q9,-10 9,-6 V0" vector-effect="non-scaling-stroke"/></g>
<g transform="translate(922.7 778.0)" fill="none" stroke-linecap="round" stroke-linejoin="round" stroke-width="2.6"><path transform="translate(1.30 0) scale(0.8762 1.3143)" d="M9,-5 A4.5,5 0 1 0 9,-4.9 M9,-10 V0" vector-effect="non-scaling-stroke"/><path transform="translate(14.99 0) scale(1.3143 1.3143)" d="M0,-14 V0" vector-effect="non-scaling-stroke"/><path transform="translate(20.79 0) scale(0.9153 1.3143)" d="M2.3,-13.5 V-1.6 Q2.3,0 4.2,0 H5.4 M0,-10 H5.6" vector-effect="non-scaling-stroke"/><path transform="translate(31.71 0) scale(0.8762 1.3143)" d="M0.2,-5 H9 A4.5,5 0 1 0 7.8,-1.6" vector-effect="non-scaling-stroke"/><path transform="translate(45.40 0) scale(0.8492 1.3143)" d="M0,-10 V0 M0,-6 Q0.5,-10 4,-10 H6.5" vector-effect="non-scaling-stroke"/><path transform="translate(56.72 0) scale(0.8762 1.3143)" d="M0,-10 V0 M0,-6 Q0,-10 4.5,-10 Q9,-10 9,-6 V0" vector-effect="non-scaling-stroke"/><path transform="translate(70.40 0) scale(0.8762 1.3143)" d="M9,-5 A4.5,5 0 1 0 9,-4.9 M9,-10 V0" vector-effect="non-scaling-stroke"/><path transform="translate(84.09 0) scale(0.9153 1.3143)" d="M2.3,-13.5 V-1.6 Q2.3,0 4.2,0 H5.4 M0,-10 H5.6" vector-effect="non-scaling-stroke"/><path transform="translate(95.01 0) scale(1.3143 1.3143)" d="M0,-10 V0 M0,-14 V-12.6" vector-effect="non-scaling-stroke"/><path transform="translate(100.81 0) scale(0.8762 1.3143)" d="M0,-10 L4.5,0 L9,-10" vector-effect="non-scaling-stroke"/></g>
<circle cx="630.5" cy="1033.5" r="195.5" stroke-width="4.4" fill="none"/>
<circle cx="630.5" cy="1033.5" r="182.5" stroke-width="2.8" fill="none"/>
<circle cx="630.5" cy="1033.5" r="174" stroke-width="2.4" fill="none"/>
<rect x="569.3" y="834" width="122.90000000000009" height="4.7000000000000455" fill="#000" stroke="none"/>
<line x1="571" y1="834" x2="571" y2="846" stroke-width="3.4"/>
<line x1="690.5" y1="834" x2="690.5" y2="846" stroke-width="3.4"/>
<line x1="557.9" y1="876.5" x2="557.9" y2="1018" stroke-width="2.4"/>
<line x1="704.2" y1="876.5" x2="704.2" y2="1018" stroke-width="2.4"/>
<rect x="555.2" y="959.25" width="5.599999999999909" height="6.5" fill="#000" stroke="none"/>
<rect x="701.4" y="959.25" width="5.600000000000023" height="6.5" fill="#000" stroke="none"/>
<rect x="555.2" y="984.75" width="5.599999999999909" height="8.5" fill="#000" stroke="none"/>
<rect x="701.4" y="984.75" width="5.600000000000023" height="8.5" fill="#000" stroke="none"/>
<path d="M735.07,1036.20 A104.6,104.6 0 0 1 633.20,1138.07 L633.00,1130.47 A97,97 0 0 0 727.47,1036.00 Z" stroke-width="2" fill="none"/>
<path d="M627.80,1138.07 A104.6,104.6 0 0 1 525.93,1036.20 L533.53,1036.00 A97,97 0 0 0 628.00,1130.47 Z" stroke-width="2" fill="none"/>
<path d="M525.93,1030.80 A104.6,104.6 0 0 1 627.80,928.93 L628.00,936.53 A97,97 0 0 0 533.53,1031.00 Z" stroke-width="2" fill="none"/>
<path d="M633.20,928.93 A104.6,104.6 0 0 1 735.07,1030.80 L727.47,1031.00 A97,97 0 0 0 633.00,936.53 Z" stroke-width="2" fill="none"/>
<path d="M719.06,1036.22 A88.6,88.6 0 0 1 633.22,1122.06 L632.98,1114.46 A81,81 0 0 0 711.46,1035.98 Z" stroke-width="2" fill="none"/>
<path d="M627.78,1122.06 A88.6,88.6 0 0 1 541.94,1036.22 L549.54,1035.98 A81,81 0 0 0 628.02,1114.46 Z" stroke-width="2" fill="none"/>
<path d="M541.94,1030.78 A88.6,88.6 0 0 1 627.78,944.94 L628.02,952.54 A81,81 0 0 0 549.54,1031.02 Z" stroke-width="2" fill="none"/>
<path d="M633.22,944.94 A88.6,88.6 0 0 1 719.06,1030.78 L711.46,1031.02 A81,81 0 0 0 632.98,952.54 Z" stroke-width="2" fill="none"/>
<circle cx="630.5" cy="1033.5" r="72" stroke-width="2.3" fill="none"/>
<circle cx="630.7" cy="1034" r="12.6" stroke-width="2.4" fill="none"/>
<polyline points="630.6,1033.6 765.4,829.2 806.25,829.2" stroke-width="2.5" fill="none"/>
<polygon points="630.75,1030.17 635.01,1022.80 634.18,1022.25 638.85,1015.16 643.86,1018.46 639.18,1025.56 638.35,1025.01 633.25,1031.83" fill="#000" stroke="none"/>
<path d="M826,1034.5 C836,1033 846,1028 857,1022" stroke-width="2.6" fill="none"/>
<path d="M826,1050 C840,1047 856,1040 869,1032" stroke-width="2.6" fill="none"/>
<circle cx="865.3" cy="1025.4" r="7.3" fill="#000" stroke="none"/>
<path d="M430,1093.3 Q422.3,1093.3 422.3,1102.2 Q422.3,1111.2 430,1111.2 H439 Q445.3,1111.2 445.3,1105 V1099 Q445.3,1093.3 438,1093.3 Z" stroke-width="4.8" fill="none"/>
<line x1="434.8" y1="1048" x2="434.8" y2="1296" stroke-width="2.3"/>
<line x1="825.8" y1="1045" x2="825.8" y2="1296" stroke-width="2.3"/>
<line x1="435" y1="1288" x2="593.3" y2="1288" stroke-width="2.2"/>
<line x1="668.5" y1="1288" x2="826" y2="1288" stroke-width="2.2"/>
<polygon points="440.70,1286.10 448.95,1285.70 448.95,1284.50 455.70,1284.50 455.70,1291.50 448.95,1291.50 448.95,1290.30 440.70,1289.90" fill="#000" stroke="none"/>
<polygon points="821.70,1289.90 815.70,1290.30 815.70,1291.50 806.70,1291.50 806.70,1284.50 815.70,1284.50 815.70,1285.70 821.70,1286.10" fill="#000" stroke="none"/>
<g transform="translate(619 1297.4)" fill="none" stroke-linecap="round" stroke-linejoin="round" stroke-width="2.6"><path transform="translate(1.30 0) scale(1.1777 1.3500)" d="M7,0 V-14 L0,-4.4 H9.4" vector-effect="non-scaling-stroke"/><path transform="translate(18.45 0) scale(1.0950 1.3500)" d="M4.5,-7.6 Q0.5,-7.6 0.5,-10.8 Q0.5,-14 4.5,-14 Q8.5,-14 8.5,-10.8 Q8.5,-7.6 4.5,-7.6 Q0,-7.6 0,-3.8 Q0,0 4.5,0 Q9,0 9,-3.8 Q9,-7.6 4.5,-7.6 Z" vector-effect="non-scaling-stroke"/><path transform="translate(34.38 0) scale(1.1368 1.3500)" d="M0,-10.8 L3.8,-14 V0" vector-effect="non-scaling-stroke"/></g>
<g transform="translate(609.4 1288.2) rotate(0)"><ellipse cx="0" cy="0" rx="4.9" ry="7.6" stroke-width="2.7" fill="none"/><line x1="4.3" y1="-10.3" x2="-4.1" y2="9.8" stroke-width="2.7"/></g>
<g transform="translate(814 835.7)" fill="none" stroke-linecap="round" stroke-linejoin="round" stroke-width="2.6"><path transform="translate(1.30 0) scale(0.9797 1.3143)" d="M0,0 L5.5,-14 L11,0 M2.1,-4.8 H8.9" vector-effect="non-scaling-stroke"/><path transform="translate(18.52 0) scale(0.8762 1.3143)" d="M0,-14 V0 M0,-5 A4.5,5 0 1 0 0,-5.1" vector-effect="non-scaling-stroke"/><path transform="translate(32.84 0) scale(0.8762 1.3143)" d="M9,-5 A4.5,5 0 1 0 9,-4.9 M9,-10 V2 Q9,5 5.5,5 H1" vector-effect="non-scaling-stroke"/><path transform="translate(47.17 0) scale(0.8762 1.3143)" d="M9,-5 A4.5,5 0 1 0 9,-4.9 M9,-10 V0" vector-effect="non-scaling-stroke"/><path transform="translate(61.49 0) scale(0.8762 1.3143)" d="M0,-10 V0 M0,-6 Q0,-10 4.5,-10 Q9,-10 9,-6 V0" vector-effect="non-scaling-stroke"/><path transform="translate(75.81 0) scale(0.8762 1.3143)" d="M9,-5 A4.5,5 0 1 0 9,-4.9 M9,-10 V2 Q9,5 5.5,5 H1" vector-effect="non-scaling-stroke"/></g>
<g transform="translate(919 835.7)" fill="none" stroke-linecap="round" stroke-linejoin="round" stroke-width="2.6"><path transform="translate(1.30 0) scale(0.8762 1.3143)" d="M9,-5 A4.5,5 0 1 0 9,-4.9 M9,-10 V0" vector-effect="non-scaling-stroke"/><path transform="translate(14.99 0) scale(1.3143 1.3143)" d="M0,-14 V0" vector-effect="non-scaling-stroke"/><path transform="translate(20.79 0) scale(0.9153 1.3143)" d="M2.3,-13.5 V-1.6 Q2.3,0 4.2,0 H5.4 M0,-10 H5.6" vector-effect="non-scaling-stroke"/><path transform="translate(31.71 0) scale(0.8762 1.3143)" d="M0.2,-5 H9 A4.5,5 0 1 0 7.8,-1.6" vector-effect="non-scaling-stroke"/><path transform="translate(45.40 0) scale(0.8492 1.3143)" d="M0,-10 V0 M0,-6 Q0.5,-10 4,-10 H6.5" vector-effect="non-scaling-stroke"/><path transform="translate(56.72 0) scale(0.8762 1.3143)" d="M0,-10 V0 M0,-6 Q0,-10 4.5,-10 Q9,-10 9,-6 V0" vector-effect="non-scaling-stroke"/><path transform="translate(70.40 0) scale(0.8762 1.3143)" d="M9,-5 A4.5,5 0 1 0 9,-4.9 M9,-10 V0" vector-effect="non-scaling-stroke"/><path transform="translate(84.09 0) scale(0.9153 1.3143)" d="M2.3,-13.5 V-1.6 Q2.3,0 4.2,0 H5.4 M0,-10 H5.6" vector-effect="non-scaling-stroke"/><path transform="translate(95.01 0) scale(1.3143 1.3143)" d="M0,-10 V0 M0,-14 V-12.6" vector-effect="non-scaling-stroke"/><path transform="translate(100.81 0) scale(0.8762 1.3143)" d="M0,-10 L4.5,0 L9,-10" vector-effect="non-scaling-stroke"/></g>
</g>
</svg>
</body></html>
